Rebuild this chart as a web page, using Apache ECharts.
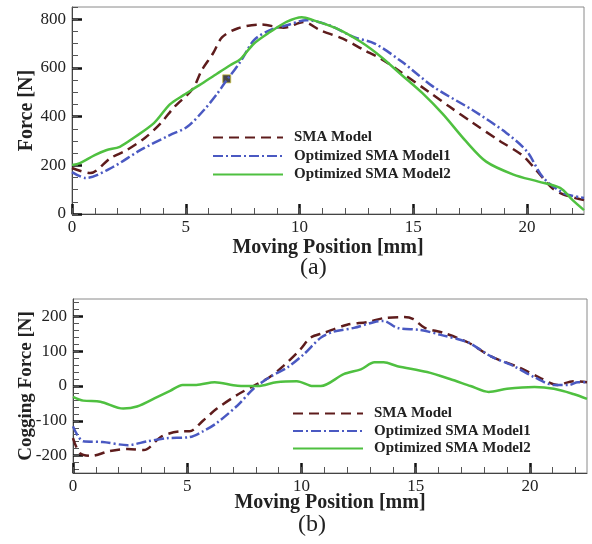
<!DOCTYPE html>
<html>
<head>
<meta charset="utf-8">
<script src="https://cdn.jsdelivr.net/npm/echarts@6/dist/echarts.min.js"></script>
<style>
  html, body { margin: 0; padding: 0; background: #fff; }
  #main { width: 592px; height: 544px; }
</style>
</head>
<body>
<div id="main"></div>
<script>
  // (a) force curves, [position mm, force N]
  var forceSMA = [[0,189],[0.8,168],[1.7,230],[2.4,262],[3.2,312],[3.9,373],[4.5,440],[5.3,513],[5.7,590],[6.2,660],[6.6,726],[7.3,763],[8.3,778],[9.3,765],[10.2,788],[10.9,755],[11.9,720],[12.8,675],[13.6,636],[14.4,586],[15.7,500],[16.6,440],[17.6,375],[18.8,300],[19.8,240],[20.4,180],[21.1,107],[21.6,80],[22.5,57]];
  var forceOpt1 = [[0,172],[0.6,148],[1.8,193],[3.0,262],[4.3,324],[5.05,357],[5.8,427],[6.4,496],[6.7,537],[7.4,625],[8.0,714],[8.7,755],[9.45,775],[10.3,796],[11.3,775],[12.4,726],[13.3,700],[14.5,625],[15.9,521],[17.6,427],[19.1,332],[20.0,256],[20.7,150],[21.6,86],[22.5,66]];
  var forceOpt2 = [[0,201],[0.35,209],[1.0,242],[1.5,262],[2.1,276],[2.7,312],[3.6,373],[4.3,450],[4.9,488],[5.6,529],[6.4,578],[6.95,611],[7.4,636],[8.0,700],[8.7,747],[9.45,790],[10.1,808],[10.6,796],[11.6,763],[12.7,706],[13.6,644],[14.5,570],[15.4,496],[16.3,410],[17.3,300],[18.2,215],[19.4,162],[20.5,133],[21.45,107],[22.0,57],[22.5,16]];
  var forceMark = [[6.8,555]];

  // (b) cogging force curves
  var cogSMA = [[0,-150],[0.3,-193],[0.8,-201],[1.6,-187],[2.4,-181],[3.1,-184],[3.9,-144],[4.8,-130],[5.1,-130],[5.7,-99],[6.3,-65],[7.2,-25],[7.9,0],[8.6,25],[9.2,57],[9.95,105],[10.4,139],[11.0,153],[12.0,176],[12.9,184],[13.6,195],[14.5,198],[14.9,192],[15.4,167],[16.2,153],[17.3,125],[18.3,85],[19.5,54],[20.4,25],[21.2,3],[21.9,14],[22.5,11]];
  var cogOpt1 = [[0,-116],[0.45,-159],[1.3,-161],[2.4,-170],[3.25,-159],[4.1,-150],[5.1,-147],[5.7,-130],[6.3,-106],[7.2,-56],[7.9,-8],[8.6,25],[9.4,54],[10.1,91],[10.85,139],[11.4,156],[12.3,167],[13.2,184],[13.6,187],[14.2,167],[15.2,161],[16.1,147],[17.3,125],[18.3,85],[19.3,57],[20.2,25],[21.05,3],[21.7,3],[22.1,11],[22.5,11]];
  var cogOpt2 = [[0,-31],[0.45,-42],[1.2,-45],[2.2,-65],[2.8,-59],[3.7,-31],[4.25,-14],[4.8,3],[5.4,3],[6.2,11],[7.2,1],[8.1,0],[8.9,11],[9.8,14],[10.5,0],[10.85,0],[11.85,34],[12.6,48],[13.2,68],[13.6,68],[14.2,57],[15.5,40],[16.5,20],[17.4,0],[18.2,-17],[19.0,-8],[20.2,-3],[21.05,-8],[21.9,-23],[22.5,-37]];

  var seriesNames = ['SMA Model', 'Optimized SMA Model1', 'Optimized SMA Model2'];

  // axis ranges and tick labels
  var xRange = [0, 22.5];
  var forceRange = [0, 850];
  var cogRange = [-250, 250];
  var xMajorTicks = [0, 5, 10, 15, 20];
  var forceMajorTicks = [0, 200, 400, 600, 800];
  var cogMajorTicks = [-200, -100, 0, 100, 200];

  function steps(from, to, step) {
    var out = [];
    for (var v = from; v <= to + 1e-9; v += step) out.push(v);
    return out;
  }
  var xMinorTicks = steps(0, 22, 1);
  var forceMinorTicks = steps(0, 850, 50);
  var cogMinorTicks = steps(-240, 240, 20);

  var colSMA = '#5e1c1c', colOpt1 = '#4a59c2', colOpt2 = '#4fc040';
  var serif = 'Liberation Serif';

  function majorAxis(grid, range, ticks, pos, name, gap, nameSize) {
    return {
      type: 'value', gridIndex: grid, position: pos, min: range[0], max: range[1],
      axisLine: { show: true, onZero: false, lineStyle: { color: '#444', width: 1 } },
      axisTick: { show: true, inside: true, length: 10, customValues: ticks,
        lineStyle: { color: '#111', width: 2.5 } },
      axisLabel: { color: '#222', fontFamily: serif, fontSize: 17, margin: pos === 'left' ? 6 : 5,
        customValues: ticks },
      splitLine: { show: false },
      name: name, nameLocation: 'middle', nameGap: gap, nameMoveOverlap: false,
      nameTextStyle: { fontFamily: serif, fontWeight: 'bold', fontSize: nameSize, color: '#222' }
    };
  }
  function minorAxis(grid, range, ticks, pos) {
    return {
      type: 'value', gridIndex: grid, position: pos, min: range[0], max: range[1],
      axisLine: { show: false, onZero: false }, axisLabel: { show: false }, splitLine: { show: false },
      axisTick: { show: true, inside: true, length: 6, customValues: ticks,
        lineStyle: { color: '#555', width: 1 } }
    };
  }
  function line(name, data, color, type, xi, yi) {
    return {
      name: name, type: 'line', data: data, xAxisIndex: xi, yAxisIndex: yi,
      showSymbol: false, symbol: 'none', smooth: 0.3,
      lineStyle: { color: color, width: 2.5, type: type },
      itemStyle: { color: color }
    };
  }
  function legend(left, top, h, gap) {
    return {
      left: left, top: top, orient: 'vertical', itemWidth: 70, itemHeight: h, itemGap: gap,
      data: seriesNames, selectedMode: false,
      itemStyle: { opacity: 0 },
      textStyle: { fontFamily: serif, fontWeight: 'bold', fontSize: 15, color: '#222', padding: [0, 0, 0, 6] }
    };
  }
  var dash = [10, 6];
  var dashDot = [10, 3, 2, 3];

  var chart = echarts.init(document.getElementById('main'));
  chart.setOption({
    backgroundColor: '#fff',
    animation: false,
    grid: [
      { left: 72, right: 8, top: 7, height: 207, show: true, borderColor: '#8a8a8a', borderWidth: 1 },
      { left: 73, right: 5, top: 299, height: 174, show: true, borderColor: '#8a8a8a', borderWidth: 1 }
    ],
    legend: [legend(207, 125, 14, 3.5), legend(287, 401, 12, 2.5)],
    xAxis: [
      majorAxis(0, xRange, xMajorTicks, 'bottom', 'Moving Position [mm]', 24, 20), minorAxis(0, xRange, xMinorTicks, 'bottom'),
      majorAxis(1, xRange, xMajorTicks, 'bottom', 'Moving Position [mm]', 20, 20), minorAxis(1, xRange, xMinorTicks, 'bottom')
    ],
    yAxis: [
      majorAxis(0, forceRange, forceMajorTicks, 'left', 'Force [N]', 35, 20), minorAxis(0, forceRange, forceMinorTicks, 'left'),
      majorAxis(1, cogRange, cogMajorTicks, 'left', 'Cogging Force [N]', 37, 19), minorAxis(1, cogRange, cogMinorTicks, 'left')
    ],
    series: [
      line(seriesNames[0], forceSMA, colSMA, dash, 0, 0),
      line(seriesNames[1], forceOpt1, colOpt1, dashDot, 0, 0),
      line(seriesNames[2], forceOpt2, colOpt2, 'solid', 0, 0),
      { type: 'scatter', data: forceMark, xAxisIndex: 0, yAxisIndex: 0, symbol: 'rect', symbolSize: 8,
        itemStyle: { color: '#1a1a1a', borderColor: '#c8c040', borderWidth: 1 } },
      line(seriesNames[0], cogSMA, colSMA, dash, 2, 2),
      line(seriesNames[1], cogOpt1, colOpt1, dashDot, 2, 2),
      line(seriesNames[2], cogOpt2, colOpt2, 'solid', 2, 2)
    ],
    graphic: [
      { type: 'text', left: 300, top: 256, style: { text: '(a)', font: '24px "Liberation Serif"', fill: '#222' } },
      { type: 'text', left: 298, top: 513, style: { text: '(b)', font: '24px "Liberation Serif"', fill: '#222' } }
    ]
  });
  window.addEventListener('resize', function () { chart.resize(); });
</script>
</body>
</html>
